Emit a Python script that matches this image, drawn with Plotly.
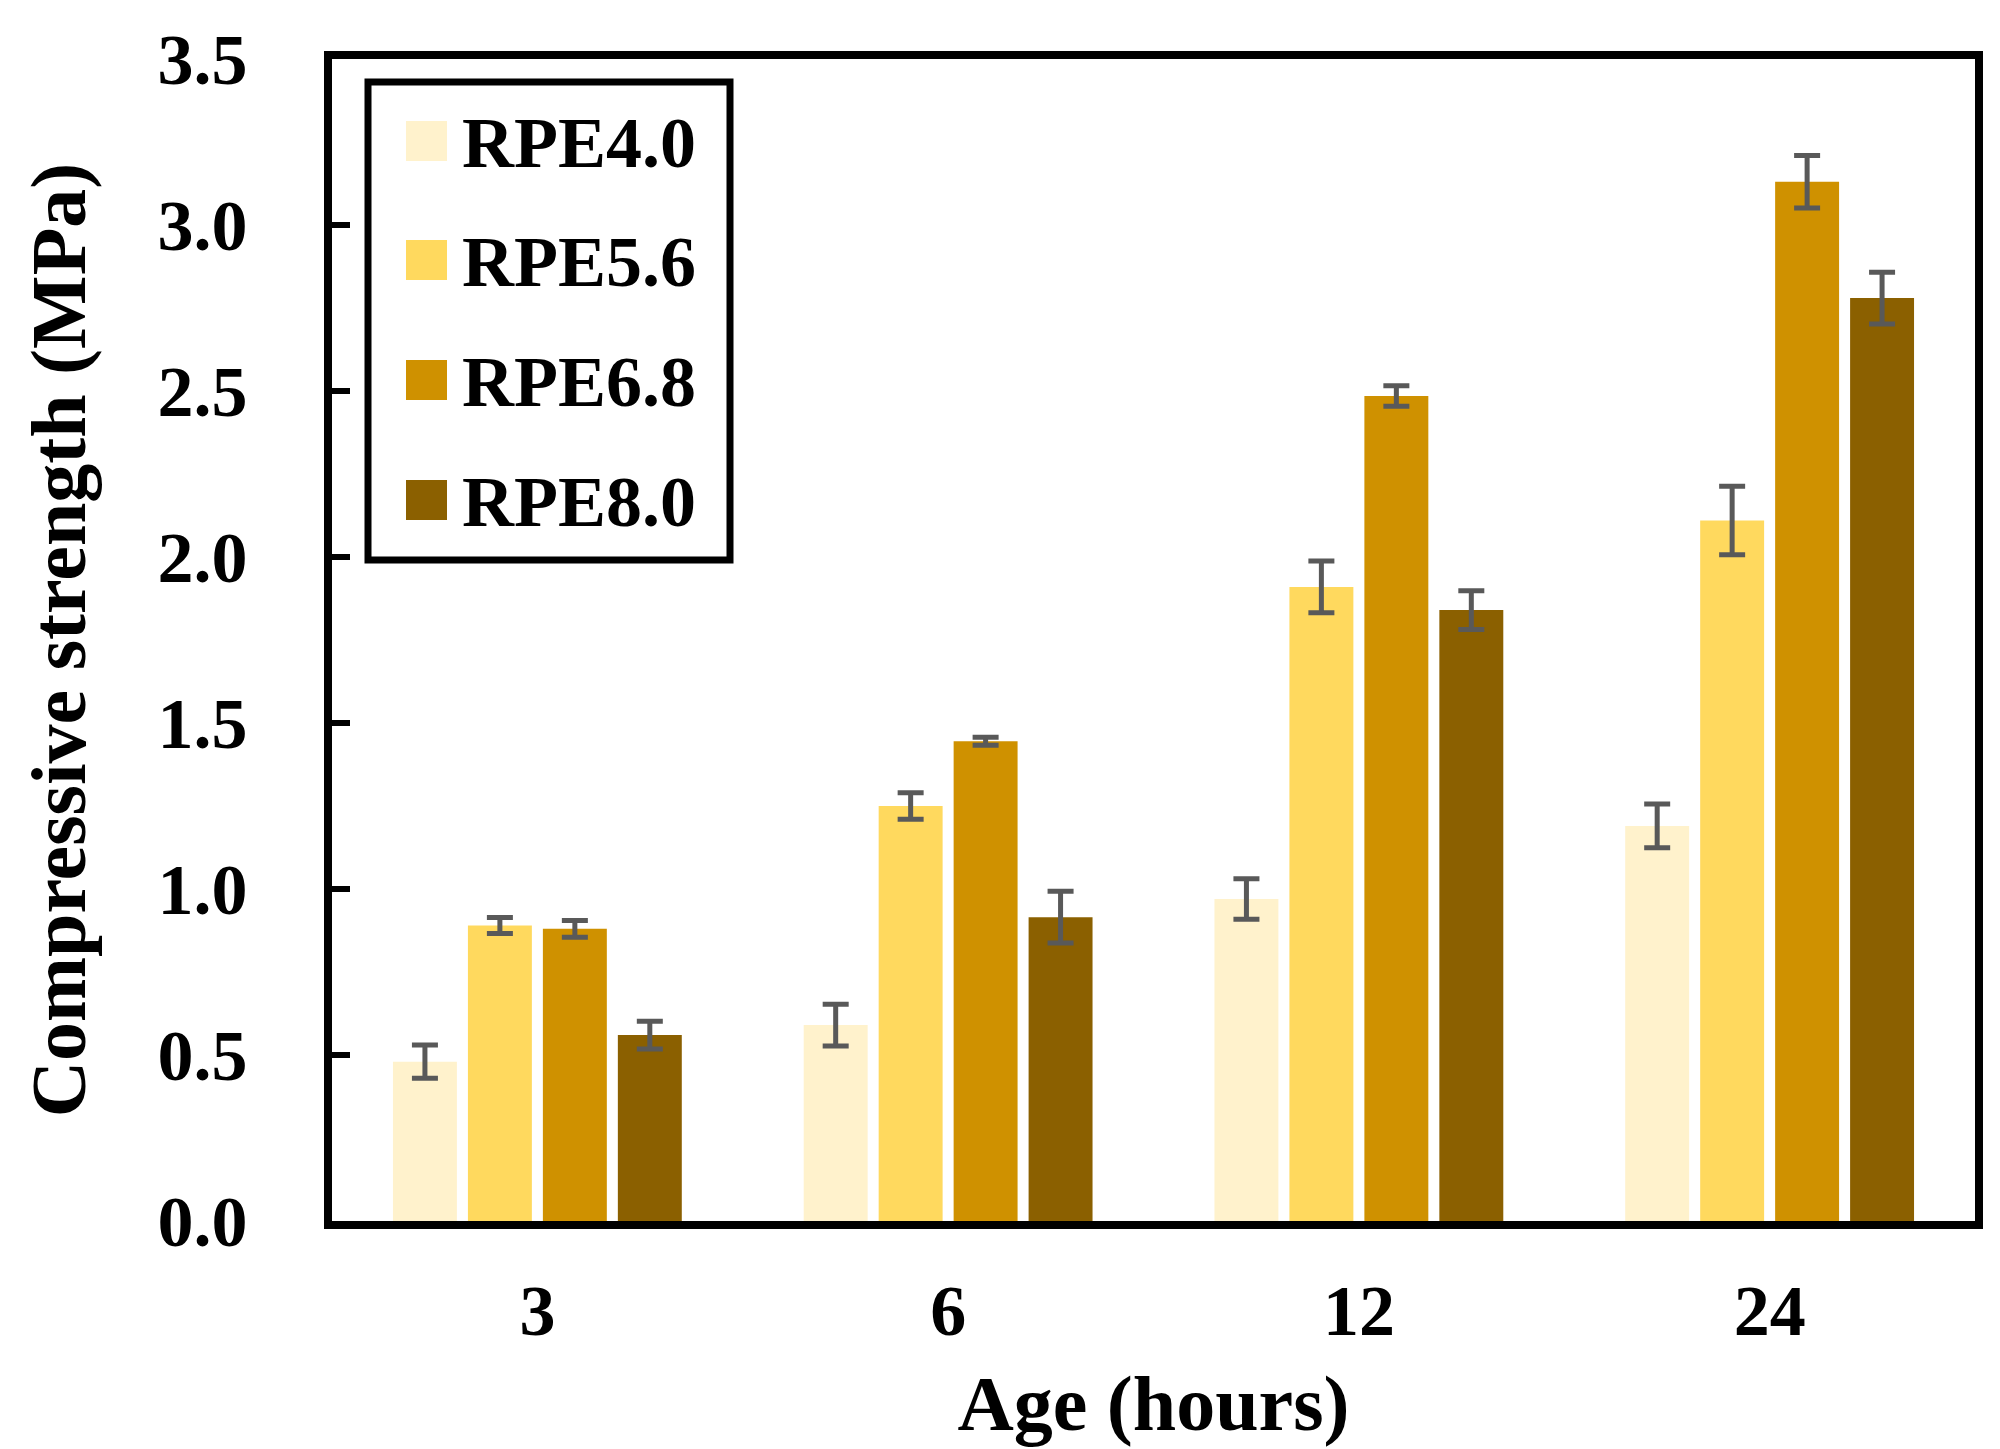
import plotly.graph_objects as go

ages = ["3", "6", "12", "24"]
series_names = ["RPE4.0", "RPE5.6", "RPE6.8", "RPE8.0"]
rpe40 = [0.48, 0.59, 0.97, 1.19]
rpe56 = [0.89, 1.25, 1.91, 2.11]
rpe68 = [0.88, 1.445, 2.485, 3.13]
rpe80 = [0.56, 0.915, 1.84, 2.78]
err40 = [0.05, 0.063, 0.061, 0.066]
err56 = [0.024, 0.04, 0.078, 0.103]
err68 = [0.025, 0.012, 0.031, 0.079]
err80 = [0.042, 0.078, 0.058, 0.078]
colors = ["#FFF2CC", "#FFD95E", "#CF9100", "#8B6000"]

values = [rpe40, rpe56, rpe68, rpe80]
errors = [err40, err56, err68, err80]

W, H = 2000, 1449
L, R, T, B = 324, 33, 51, 236
pw, ph = W - L - R, H - T - B
FONT = "Liberation Serif"

fig = go.Figure()
for name, v, e, c in zip(series_names, values, errors, colors):
    fig.add_trace(go.Bar(
        x=ages, y=v, name=name, marker=dict(color=c, line=dict(width=0)),
        error_y=dict(type="data", array=e, visible=True, color="#595959",
                     thickness=5, width=13),
        showlegend=False,
    ))

def px(x):
    return (x - L) / pw

def py(y):
    return (T + ph - y) / ph

shapes = []
annotations = []
# legend box
shapes.append(dict(type="rect", xref="paper", yref="paper",
                   x0=px(360), x1=px(722), y0=py(552), y1=py(74),
                   line=dict(color="black", width=7), fillcolor="white", layer="above"))
row_centers = [133, 252, 372, 492]
for name, c, yc in zip(series_names, colors, row_centers):
    shapes.append(dict(type="rect", xref="paper", yref="paper",
                       x0=px(398), x1=px(439), y0=py(yc + 20), y1=py(yc - 20),
                       line=dict(width=0), fillcolor=c, layer="above"))
    annotations.append(dict(xref="paper", yref="paper", x=px(452), y=py(yc + 2),
                            xanchor="left", yanchor="middle", text=name, showarrow=False,
                            font=dict(family=FONT, size=72, color="black", weight="bold")))

fig.update_layout(
    width=W, height=H,
    margin=dict(l=L, r=R, t=T, b=B, autoexpand=False),
    paper_bgcolor="white", plot_bgcolor="white",
    barmode="group", bargap=0.27, bargroupgap=0.147,
    font=dict(family=FONT, size=72, color="black", weight="bold"),
    shapes=shapes, annotations=annotations,
    showlegend=False,
)
fig.update_xaxes(
    type="category", range=[-0.5, 3.5],
    showline=True, linecolor="black", linewidth=8, mirror=True,
    ticks="", showgrid=False, zeroline=False,
    tickfont=dict(family=FONT, size=72, color="black", weight="bold"),
    ticklabelstandoff=20,
    title=dict(text="Age (hours)", standoff=28,
               font=dict(family=FONT, size=78, color="black", weight="bold")),
)
fig.update_yaxes(
    range=[0, 3.5], dtick=0.5, tick0=0, tickformat=".1f",
    showline=True, linecolor="black", linewidth=8, mirror=True,
    ticks="inside", ticklen=18, tickwidth=6, tickcolor="black",
    showgrid=False, zeroline=False,
    tickfont=dict(family=FONT, size=72, color="black", weight="bold"),
    ticklabelstandoff=62,
    title=dict(text="Compressive strength (MPa)", standoff=49,
               font=dict(family=FONT, size=78, color="black", weight="bold")),
)

fig.write_html("out.html")
